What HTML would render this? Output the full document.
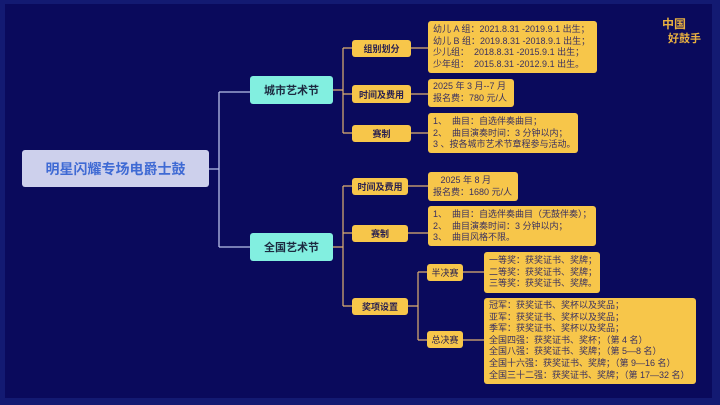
<!DOCTYPE html>
<html><head><meta charset="utf-8"><style>
*{margin:0;padding:0;box-sizing:border-box}
body{width:720px;height:405px;background:#131a72;position:relative;overflow:hidden;font-family:"Liberation Sans","Noto Sans CJK SC",sans-serif}
#bg{position:absolute;left:5px;top:4px;width:707px;height:394px;background:#0a0a5c}
.b{position:absolute;display:flex;align-items:center;justify-content:center;border-radius:3px;white-space:nowrap}
.y{background:#f7c64a;color:#2a2150;font-size:9px;font-weight:bold}
.d{position:absolute;background:#f7c64a;color:#3a3060;font-size:9px;line-height:11.6px;padding:3px 5px;border-radius:3px;white-space:nowrap;overflow:hidden}
.a{background:#82efe0;color:#1c2a40;font-size:11px;font-weight:bold}
svg{position:absolute;left:0;top:0}
</style></head><body>
<div id="bg"></div>
<svg width="720" height="405">
<g fill="none" stroke="#b8c0e8" stroke-width="1.3">
<path d="M209 169 H219 M219 92 V247 M219 92 H250 M219 247 H250"/>
</g>
<g fill="none" stroke="#e0b070" stroke-width="1.2">
<path d="M333 90 H343 M343 48 V133 M343 48 H352 M343 94 H352 M343 133 H352"/>
<path d="M333 247 H343 M343 186 V306 M343 186 H352 M343 233 H352 M343 306 H352"/>
<path d="M411 48 H428 M411 94 H428 M411 133 H428 M408 186 H428 M408 233 H428"/>
<path d="M408 306 H418 M418 272 V340 M418 272 H427 M418 340 H427 M463 272 H484 M463 340 H484"/>
</g>
<text x="662" y="28" fill="#e8b040" font-size="12" font-weight="bold" font-family="Liberation Sans,Noto Sans CJK SC,sans-serif">中国</text>
<text x="668" y="42" fill="#e8b040" font-size="11" font-weight="bold" font-family="Liberation Sans,Noto Sans CJK SC,sans-serif">好鼓手</text>
</svg>
<div class="b" style="left:22px;top:150px;width:187px;height:37px;background:#cdd0ec;color:#3f6ad4;font-size:14px;font-weight:bold">明星闪耀专场电爵士鼓</div>
<div class="b a" style="left:250px;top:76px;width:83px;height:28px">城市艺术节</div>
<div class="b a" style="left:250px;top:233px;width:83px;height:28px">全国艺术节</div>
<div class="b y" style="left:352px;top:40px;width:59px;height:17px">组别划分</div>
<div class="b y" style="left:352px;top:85px;width:59px;height:18px">时间及费用</div>
<div class="b y" style="left:352px;top:125px;width:59px;height:17px">赛制</div>
<div class="b y" style="left:352px;top:178px;width:56px;height:17px">时间及费用</div>
<div class="b y" style="left:352px;top:225px;width:56px;height:17px">赛制</div>
<div class="b y" style="left:352px;top:298px;width:56px;height:17px">奖项设置</div>
<div class="b y" style="left:427px;top:264px;width:36px;height:17px;font-weight:normal">半决赛</div>
<div class="b y" style="left:427px;top:331px;width:36px;height:17px;font-weight:normal">总决赛</div>
<div class="d" style="left:428px;top:21px;width:169px;height:52px;padding-top:3px">幼儿 A 组：2021.8.31 -2019.9.1 出生；<br>幼儿 B 组：2019.8.31 -2018.9.1 出生；<br>少儿组：&nbsp; 2018.8.31 -2015.9.1 出生；<br>少年组：&nbsp; 2015.8.31 -2012.9.1 出生。</div>
<div class="d" style="left:428px;top:79px;width:86px;height:28px;padding-top:2px">2025 年 3 月--7 月<br>报名费：780 元/人</div>
<div class="d" style="left:428px;top:113px;width:150px;height:40px;padding-top:3px">1、&nbsp; 曲目：自选伴奏曲目；<br>2、&nbsp; 曲目演奏时间：3 分钟以内；<br>3 、按各城市艺术节章程参与活动。</div>
<div class="d" style="left:428px;top:172px;width:90px;height:29px;padding-top:3px">&nbsp;&nbsp; 2025 年 8 月<br>报名费：1680 元/人</div>
<div class="d" style="left:428px;top:206px;width:168px;height:40px;padding-top:3px">1、&nbsp; 曲目：自选伴奏曲目（无鼓伴奏）；<br>2、&nbsp; 曲目演奏时间：3 分钟以内；<br>3、&nbsp; 曲目风格不限。</div>
<div class="d" style="left:484px;top:252px;width:116px;height:41px;padding-top:3px">一等奖：获奖证书、奖牌；<br>二等奖：获奖证书、奖牌；<br>三等奖：获奖证书、奖牌。</div>
<div class="d" style="left:484px;top:298px;width:212px;height:86px;padding-top:2px">冠军：获奖证书、奖杯以及奖品；<br>亚军：获奖证书、奖杯以及奖品；<br>季军：获奖证书、奖杯以及奖品；<br>全国四强：获奖证书、奖杯；（第 4 名）<br>全国八强：获奖证书、奖牌；（第 5—8 名）<br>全国十六强：获奖证书、奖牌；（第 9—16 名）<br>全国三十二强：获奖证书、奖牌；（第 17—32 名）</div>
</body></html>
